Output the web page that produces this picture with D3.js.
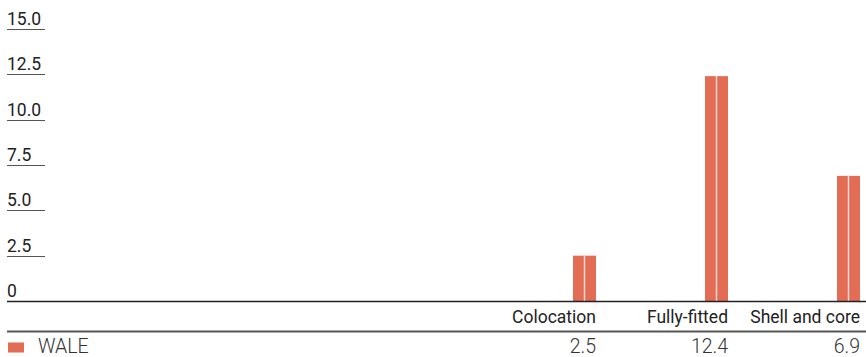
<!DOCTYPE html>
<html><head><meta charset="utf-8">
<script src="https://cdn.jsdelivr.net/npm/d3@7"></script>
<style>
body{margin:0;background:#fff;}
svg text{font-family:Roboto,"Noto Sans",sans-serif;}
</style></head>
<body><svg id="c" width="866" height="357"></svg>
<script>
const categories = ["Colocation", "Fully-fitted", "Shell and core"];
const seriesName = "WALE";
const values = [2.5, 12.4, 6.9];
const yTicks = [0, 2.5, 5, 7.5, 10, 12.5, 15];
const yTickLabels = ["0", "2.5", "5.0", "7.5", "10.0", "12.5", "15.0"];

const W = 866, left = 7;
const color = "#e26d54";
const fs = 17.5;
const fsRow = 19.5;
const svg = d3.select("#c");

const y = d3.scaleLinear().domain([0, 15]).range([301, 29]);
const x = d3.scaleBand().domain(categories).range([464, 860]).padding(0);
const barW = 23;

// y ticks
const tg = svg.append("g");
yTicks.forEach((t, i) => {
  const yy = Math.round(y(t)) + 0.5;
  if (t !== 0) {
    tg.append("line").attr("x1", left).attr("x2", 45).attr("y1", yy).attr("y2", yy)
      .attr("stroke", "#555").attr("stroke-width", 1);
  }
  tg.append("text").attr("x", left).attr("y", yy - 4.5).text(yTickLabels[i])
    .attr("font-size", fs).attr("fill", "#222");
});

// bars
const bg = svg.append("g");
categories.forEach((c, i) => {
  const bx = x(c) + x.bandwidth() - barW;
  bg.append("rect").attr("x", bx).attr("y", y(values[i])).attr("width", barW)
    .attr("height", y(0) - y(values[i])).attr("fill", color);
  bg.append("line").attr("x1", bx + barW / 2).attr("x2", bx + barW / 2)
    .attr("y1", y(values[i])).attr("y2", y(0))
    .attr("stroke", "#fff").attr("stroke-opacity", 0.75).attr("stroke-width", 1.5);
});

// baseline
svg.append("line").attr("x1", left).attr("x2", W).attr("y1", 301.5).attr("y2", 301.5)
  .attr("stroke", "#222").attr("stroke-width", 1.5);

// category labels
categories.forEach((c) => {
  svg.append("text").attr("x", x(c) + x.bandwidth()).attr("y", 323).attr("text-anchor", "end")
    .attr("font-size", fs).attr("fill", "#222").text(c);
});

// table line
svg.append("line").attr("x1", left).attr("x2", W).attr("y1", 331.5).attr("y2", 331.5)
  .attr("stroke", "#555").attr("stroke-width", 2);

// legend row
svg.append("rect").attr("x", 8).attr("y", 342.5).attr("width", 16).attr("height", 10).attr("fill", color);
svg.append("text").attr("x", 38).attr("y", 352.5).attr("font-size", fsRow).attr("font-weight", 300)
  .attr("fill", "#333").text(seriesName);
categories.forEach((c, i) => {
  svg.append("text").attr("x", x(c) + x.bandwidth()).attr("y", 352.5).attr("text-anchor", "end")
    .attr("font-size", fsRow).attr("font-weight", 300).attr("fill", "#333").text(values[i].toFixed(1));
});
</script></body></html>
